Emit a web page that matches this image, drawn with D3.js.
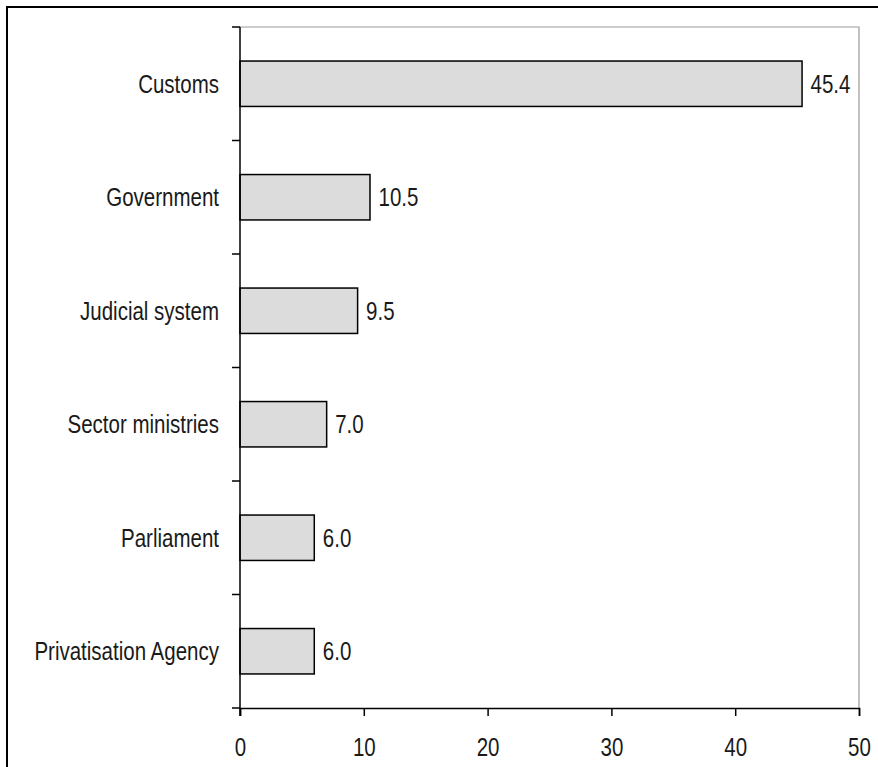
<!DOCTYPE html>
<html><head><meta charset="utf-8">
<script src="https://cdn.jsdelivr.net/npm/d3@7"></script>
<style>
html,body{margin:0;padding:0;background:#fff;}
svg{display:block;}
text{font-family:"Liberation Sans Narrow","Arial Narrow","Liberation Sans",Arial,sans-serif;fill:#1a1a1a;}
</style></head>
<body>
<script>
const categories = ["Customs","Government","Judicial system","Sector ministries","Parliament","Privatisation Agency"];
const values = [45.4, 10.5, 9.5, 7.0, 6.0, 6.0];
const xTicks = [0,10,20,30,40,50];

const W = 878, H = 767;
const pL = 240, pR = 859, pT = 27, pB = 708;
const fs = 25;
const sx = 0.82; // horizontal condensing to mimic a narrow face

const svg = d3.select("body").append("svg").attr("width", W).attr("height", H);

// outer frame
svg.append("rect").attr("x",7).attr("y",7).attr("width",W+20).attr("height",H+20)
  .attr("fill","none").attr("stroke","#000").attr("stroke-width",2);

const x = d3.scaleLinear().domain([0,50]).range([pL,pR]);
const y = d3.scaleBand().domain(categories).range([pT,pB]).paddingInner(0.6).paddingOuter(0.3);

// plot area border (gray top/right)
svg.append("path").attr("d",`M${pL},${pT}H${pR}V${pB}`)
  .attr("fill","none").attr("stroke","#9a9a9a").attr("stroke-width",1.2);

// bars
svg.selectAll("rect.bar").data(categories).enter().append("rect").attr("class","bar")
  .attr("x", x(0)).attr("y", d=>y(d)).attr("width", (d,i)=>x(values[i])-x(0)).attr("height", y.bandwidth())
  .attr("fill","#dcdcdc").attr("stroke","#000").attr("stroke-width",1.5);

// value labels
svg.selectAll("text.val").data(categories).enter().append("text").attr("class","val")
  .attr("transform",(d,i)=>`translate(${x(values[i])+8.5},${y(d)+y.bandwidth()/2}) scale(${sx},1)`)
  .attr("dy","0.35em").attr("font-size",fs).text((d,i)=>values[i].toFixed(1));

// category labels
svg.selectAll("text.cat").data(categories).enter().append("text").attr("class","cat")
  .attr("transform",d=>`translate(${pL-21},${y(d)+y.bandwidth()/2}) scale(${sx},1)`)
  .attr("dy","0.35em").attr("text-anchor","end").attr("font-size",fs).text(d=>d);

// y axis line and ticks at band boundaries
const step = y.step();
const bounds = categories.map(c => y(c) - step*0.3).concat([pB]);
svg.append("line").attr("x1",pL).attr("x2",pL).attr("y1",pT).attr("y2",pB+8)
  .attr("stroke","#000").attr("stroke-width",1.5);
svg.selectAll("line.yt").data(bounds).enter().append("line").attr("class","yt")
  .attr("x1",pL-8).attr("x2",pL).attr("y1",d=>d).attr("y2",d=>d)
  .attr("stroke","#000").attr("stroke-width",1.5);

// x axis
const xAxis = d3.axisBottom(x).tickValues(xTicks).tickSize(8).tickPadding(22).tickFormat(d3.format("d"));
const gx = svg.append("g").attr("transform",`translate(0,${pB})`).call(xAxis);
gx.attr("font-family",null).attr("font-size",null);
gx.select(".domain").attr("stroke","#000").attr("stroke-width",1.5);
gx.selectAll(".tick line").attr("stroke","#000").attr("stroke-width",1.5);
gx.selectAll(".tick text").attr("font-size",fs).attr("fill","#1a1a1a")
  .attr("x",0).attr("transform",`scale(${sx},1)`);
</script>
</body></html>
